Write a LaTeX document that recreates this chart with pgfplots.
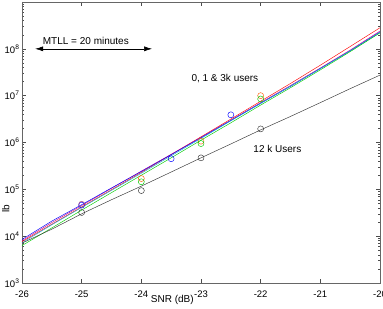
\documentclass[border=0pt]{standalone}
\usepackage{pgfplots}
\pgfplotsset{compat=1.18}
\usepackage{fontspec}
\setmainfont{Liberation Sans}
\usetikzlibrary{arrows.meta}
\begin{document}
\begin{tikzpicture}
\begin{axis}[
  name=ax,
  scale only axis,
  width=358pt, height=281pt,
  xmin=-26, xmax=-20,
  ymode=log, ymin=1e3, ymax=1e9,
  xtick={-26,-25,-24,-23,-22,-21,-20},
  xticklabels={-26,-25,-24,-23,-22,-21,-20},
  ytick={1e3,1e4,1e5,1e6,1e7,1e8,1e9},
  yticklabels={10\textsuperscript{3},10\textsuperscript{4},10\textsuperscript{5},10\textsuperscript{6},10\textsuperscript{7},10\textsuperscript{8},{}},
  tick align=inside,
  major tick length=4pt, minor tick length=2pt,
  every tick/.style={black!70, line width=0.4pt},
  axis line style={black!60, line width=0.6pt},
  tick label style={font=\fontsize{9.5}{10}\selectfont},
  xticklabel style={yshift=-4pt},
  yticklabel style={xshift=1pt},
  xlabel={SNR (dB)},
  xlabel style={font=\fontsize{10}{11}\selectfont, at={(axis description cs:0.42,0)}, anchor=north, yshift=-9pt},
  ylabel={lb},
  ylabel style={font=\fontsize{10}{11}\selectfont, at={(axis description cs:-0.045,0.263)}, anchor=center, rotate=0},
  clip=false,
]
% simulated curves
\addplot[red, line width=0.45pt] coordinates {(-26,7.6e3) (-25.5,1.8e4) (-25,4.2e4) (-24.5,9.8e4) (-24,2.3e5) (-23.5,5.5e5) (-23,1.32e6) (-22.5,3.16e6) (-22,7.6e6) (-21.5,1.82e7) (-21,4.47e7) (-20.5,1.12e8) (-20,2.82e8)};
\addplot[magenta!80!blue, line width=0.45pt] coordinates {(-26,8.0e3) (-25.5,1.95e4) (-25,4.5e4) (-24.5,1.05e5) (-24,2.45e5) (-23.5,5.6e5) (-23,1.3e6) (-22.5,3.0e6) (-22,7.1e6) (-21.5,1.65e7) (-21,3.9e7) (-20.5,9.4e7) (-20,2.4e8)};
\addplot[blue, line width=0.45pt] coordinates {(-26,8.5e3) (-25.5,2.1e4) (-25,4.7e4) (-24.5,1.07e5) (-24,2.4e5) (-23.5,5.5e5) (-23,1.26e6) (-22.5,2.95e6) (-22,6.9e6) (-21.5,1.58e7) (-21,3.8e7) (-20.5,9.1e7) (-20,2.3e8)};
\addplot[cyan!80!teal, line width=0.45pt] coordinates {(-26,7.2e3) (-25.5,1.75e4) (-25,4.1e4) (-24.5,9.5e4) (-24,2.2e5) (-23.5,5.2e5) (-23,1.22e6) (-22.5,2.9e6) (-22,6.8e6) (-21.5,1.6e7) (-21,3.75e7) (-20.5,9.0e7) (-20,2.2e8)};
\addplot[green!80!black, line width=0.45pt] coordinates {(-26,6.3e3) (-25.5,1.5e4) (-25,3.6e4) (-24.5,8.5e4) (-24,2.0e5) (-23.5,4.7e5) (-23,1.12e6) (-22.5,2.63e6) (-22,6.3e6) (-21.5,1.48e7) (-21,3.55e7) (-20.5,8.7e7) (-20,2.2e8)};
\addplot[black!80, line width=0.45pt] coordinates {(-26,7.1e3) (-25.5,1.41e4) (-25,3.0e4) (-24.5,6.0e4) (-24,1.17e5) (-23.5,2.34e5) (-23,4.7e5) (-22.5,9.3e5) (-22,1.86e6) (-21.5,3.6e6) (-21,7.1e6) (-20.5,1.41e7) (-20,2.75e7)};
% measured points
\addplot[only marks, mark=o, mark size=3pt, blue, mark options={line width=0.45pt}] coordinates {(-25,4.6e4) (-23.5,4.5e5) (-22.5,3.9e6)};
\addplot[only marks, mark=o, mark size=3pt, magenta!60!black, mark options={line width=0.45pt}] coordinates {(-25,4.8e4)};
\addplot[only marks, mark=o, mark size=3pt, black!80, mark options={line width=0.45pt}] coordinates {(-25,3.2e4) (-24,9.4e4) (-23,4.7e5) (-22,1.95e6)};
\addplot[only marks, mark=o, mark size=3pt, orange!70!red, mark options={line width=0.45pt}] coordinates {(-24,1.7e5) (-23,1.07e6) (-22,1.0e7)};
\addplot[only marks, mark=o, mark size=3pt, green!80!black, mark options={line width=0.45pt}] coordinates {(-24,1.45e5) (-23,0.95e6) (-22,8.5e6)};
% annotations
\draw[{Latex[length=8pt,width=5pt]}-{Latex[length=8pt,width=5pt]}, line width=0.6pt] (axis cs:-25.78,1e8) -- (axis cs:-23.82,1e8);
\node[font=\fontsize{10}{11}\selectfont] at (axis cs:-24.93,1.45e8) {MTLL = 20 minutes};
\node[font=\fontsize{10}{11}\selectfont] at (axis cs:-22.6,2.3e7) {0, 1 \& 3k users};
\node[font=\fontsize{10}{11}\selectfont] at (axis cs:-21.72,7.2e5) {12 k Users};
\end{axis}
\pgfresetboundingbox
\path ([xshift=-22pt,yshift=-26pt]ax.south west) rectangle ([xshift=3pt,yshift=2pt]ax.north east);
\end{tikzpicture}
\end{document}
